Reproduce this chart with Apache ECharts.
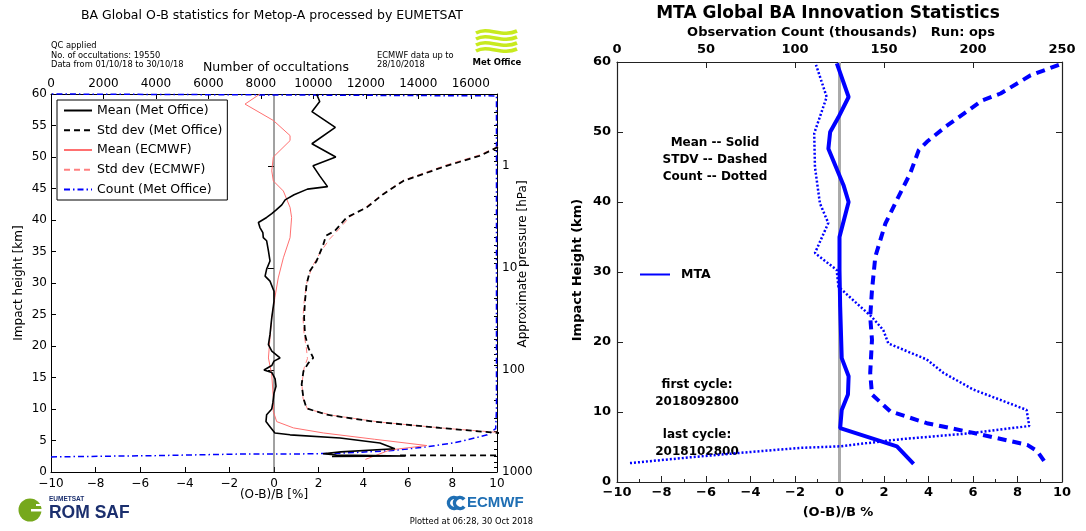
<!DOCTYPE html>
<html>
<head>
<meta charset="utf-8">
<script src="https://cdn.jsdelivr.net/npm/echarts@6/dist/echarts.min.js"></script>
<style>
  html, body { margin: 0; padding: 0; background: #fff; }
  #chart { width: 1086px; height: 531px; }
</style>
</head>
<body>
<div id="chart"></div>
<script>
// ---- left panel: Metop-A O-B statistics, [ (O-B)/B %, impact height km ] ----
const moMean = [[1.91,60],[2.05,58.8],[1.7,57.2],[2.75,54.7],[1.7,52.1],[2.77,50.0],[1.75,48.6],[2.05,47.0],[2.4,45.3],[1.5,44.9],[0.9,44.0],[0.5,43.2],[0.35,42.4],[0.1,41.6],[-0.1,41.0],[-0.33,40.4],[-0.7,39.6],[-0.63,38.8],[-0.5,38.0],[-0.48,37.2],[-0.33,36.7],[-0.25,35.1],[-0.18,33.5],[-0.33,32.2],[-0.4,31.1],[-0.18,30.3],[0,28.7],[0,27.1],[-0.1,24.5],[-0.18,21.8],[-0.25,20.2],[-0.1,19.2],[0.27,18.1],[0,17.6],[-0.1,16.9],[-0.45,16.2],[-0.1,15.8],[0.05,14.8],[0.09,13.6],[0,12.5],[-0.05,11.0],[-0.1,10.0],[-0.33,9.1],[-0.36,8.0],[-0.18,7.2],[0.04,6.2],[0.72,5.9],[2.96,5.4],[4.75,4.6],[5.42,3.7],[3.0,3.2],[2.2,2.9],[2.8,2.7],[5.9,2.55],[2.6,2.45]];
const moStd = [[14,54.5],[10.0,51.5],[9.24,50.2],[7.74,48.6],[5.8,46.2],[4.9,44.1],[4.16,42.0],[3.26,40.4],[2.74,38.3],[2.33,37.5],[2.2,36.0],[1.91,33.5],[1.61,31.9],[1.46,29.8],[1.39,27.1],[1.35,24.5],[1.39,21.8],[1.54,19.7],[1.76,18.1],[1.54,17.3],[1.32,16.0],[1.24,13.9],[1.32,11.7],[1.46,10.1],[2.36,9.1],[4.45,8.0],[7.44,7.0],[10.0,6.2],[14,5.6],[30,3.5],[30,2.65],[5.6,2.65]];
const ecMean = [[-0.63,60],[-1.3,58.4],[-0.03,55.8],[0.72,53.4],[0.72,52.6],[-0.03,50.0],[-0.1,47.8],[-0.03,46.2],[0.42,44.6],[0.72,42.0],[0.79,40.4],[0.72,37.2],[0.42,34.0],[0.19,30.8],[0.04,27.7],[-0.1,24.5],[-0.18,21.3],[-0.25,18.1],[-0.1,15.4],[-0.03,11.7],[-0.03,9.6],[0.12,8.0],[0.87,7.0],[2.21,6.2],[4.5,5.2],[6.85,4.2],[5.2,3.5],[4.1,2.0]];
const ecStd = [[14,54.5],[10.0,51.6],[9.2,50.3],[7.7,48.7],[5.8,46.3],[4.9,44.2],[4.1,42.0],[3.4,40.5],[2.9,38.5],[2.5,37.0],[2.1,35.0],[1.7,32.5],[1.45,29.8],[1.35,27.0],[1.3,24.5],[1.35,21.8],[1.45,19.7],[1.5,18.0],[1.35,16.5],[1.25,14.0],[1.3,11.7],[1.5,10.0],[2.6,9.0],[4.8,7.9],[7.8,6.9],[10.0,6.3],[14,5.7]];
// [ number of occultations, impact height km ]
const moCount = [[0,2.4],[4000,2.6],[7200,2.85],[9500,2.87],[11000,2.97],[13000,3.4],[14340,4.0],[15300,4.6],[15870,5.1],[16630,5.9],[16950,6.9],[16980,10],[16980,20],[16980,30],[16980,40],[16980,50],[16980,59.7],[0,60]];
const pressureLabels = [1000, 100, 10, 1];

// ---- right panel: MTA innovation statistics ----
const mtaMean = [[-0.12,59.8],[0.41,55.0],[-0.05,52.1],[-0.42,50.0],[-0.5,47.6],[0.18,42.4],[0.41,40.0],[0,35.0],[0,30.3],[0.03,25.1],[0.1,17.7],[0.41,15.1],[0.38,12.5],[0.1,10.3],[0.03,7.7],[2.58,5.1],[3.33,2.6]];
const mtaStd = [[9.86,59.6],[8.59,58.1],[7.24,55.5],[6.41,54.5],[5.89,53.3],[4.83,50.9],[3.93,48.6],[3.56,47.4],[3.18,44.1],[2.58,40.3],[2.06,36.9],[1.61,32.2],[1.46,27.4],[1.38,23.6],[1.46,20.3],[1.38,15.6],[1.46,12.5],[2.28,10.1],[3.93,8.4],[6.04,7.0],[8.44,5.3],[8.89,4.4],[9.26,2.7]];
// [ count (thousands), impact height km ]
const mtaCount = [[7.3,2.7],[40,3.5],[71,4.2],[102.8,4.87],[125.3,5.1],[158.9,6.1],[200,7.0],[231.6,8.0],[230.1,10.3],[200.2,13.2],[183.3,15.6],[174,17.5],[152.4,19.8],[149.6,21.7],[143.1,23.6],[136.5,25.1],[124.4,27.9],[123.4,30.3],[111.2,32.7],[118.7,37.0],[114,39.8],[111.2,45.0],[110.8,49.8],[117.8,55.0],[111.8,59.6]];
const zeroLine = [[0,0],[0,60]];

const FONT = 'DejaVu Sans';
const minus = v => (v < 0 ? '\u2212' + (-v) : String(v));

// log-pressure positions for the right axis of the left panel
const pMinor = [];
for (let d = -1; d <= 2; d++) {
  for (let k = 2; k <= 9; k++) {
    const p = k * Math.pow(10, d);
    if (p >= 0.2 && p <= 1000) pMinor.push(-Math.log10(p));
  }
}
const pMajor = pressureLabels.map(p => -Math.log10(p));

function lineSeries(name, data, xi, yi, color, width, type, extra) {
  return Object.assign({
    name, type: 'line', data, xAxisIndex: xi, yAxisIndex: yi,
    symbol: 'none', showSymbol: false, silent: true, animation: false,
    lineStyle: { color, width, type: type || 'solid', cap: 'butt' },
    itemStyle: { color }
  }, extra || {});
}

function txt(x, y, text, font, align, extra) {
  return Object.assign({
    type: 'text', x, y, silent: true,
    style: { text, font, fill: '#000', align: align || 'left', verticalAlign: 'middle' }
  }, extra || {});
}

const axisBase = (extra) => Object.assign({
  type: 'value',
  axisLine: { show: true, onZero: false, lineStyle: { color: '#000', width: 1 } },
  axisTick: { show: true, inside: true, length: 5, lineStyle: { color: '#000', width: 1 } },
  axisLabel: { color: '#000', fontSize: 12, fontFamily: FONT },
  splitLine: { show: false }
}, extra);

const boldLabel = { color: '#000', fontSize: 13, fontFamily: FONT, fontWeight: 'bold' };
const frameRight = { show: true, onZero: false, lineStyle: { color: '#222', width: 1.2 } };
const tickRight = { show: true, inside: true, length: 6, lineStyle: { color: '#222', width: 1 } };

const option = {
  animation: false,
  grid: [
    { left: 51, top: 94, width: 446, height: 378 },
    { left: 617, top: 62, width: 445, height: 420 }
  ],
  xAxis: [
    axisBase({ gridIndex: 0, position: 'bottom', min: -10, max: 10, interval: 2,
      axisLabel: { color: '#000', fontSize: 12, fontFamily: FONT, margin: 6, formatter: minus } }),
    axisBase({ gridIndex: 0, position: 'top', min: 0, max: 17000, interval: 2000,
      axisLabel: { color: '#000', fontSize: 12, fontFamily: FONT, margin: 4,
        formatter: v => (v > 16000 ? '' : String(v)) } }),
    axisBase({ gridIndex: 1, position: 'bottom', min: -10, max: 10, interval: 2,
      axisLine: frameRight, axisTick: tickRight,
      minorTick: { show: true, splitNumber: 2, length: 3, lineStyle: { color: '#222' } },
      axisLabel: Object.assign({ margin: 4, formatter: minus }, boldLabel) }),
    axisBase({ gridIndex: 1, position: 'top', min: 0, max: 250, interval: 50,
      axisLine: frameRight, axisTick: tickRight,
      axisLabel: Object.assign({ margin: 6 }, boldLabel) })
  ],
  yAxis: [
    axisBase({ gridIndex: 0, position: 'left', min: 0, max: 60, interval: 5,
      axisLabel: { color: '#000', fontSize: 12, fontFamily: FONT, margin: 4 } }),
    axisBase({ gridIndex: 0, position: 'right', min: -3, max: 0.706,
      axisTick: { show: true, inside: true, length: 3, customValues: pMinor, lineStyle: { color: '#000', width: 1 } },
      axisLabel: { show: false } }),
    axisBase({ gridIndex: 0, position: 'right', min: -3, max: 0.706,
      axisLine: { show: false },
      axisTick: { show: true, inside: true, length: 6, customValues: pMajor, lineStyle: { color: '#000', width: 1 } },
      axisLabel: { color: '#000', fontSize: 12, fontFamily: FONT, margin: 5, customValues: pMajor,
        formatter: v => String(Math.round(Math.pow(10, -v))) } }),
    axisBase({ gridIndex: 1, position: 'left', min: 0, max: 60, interval: 10,
      axisLine: frameRight, axisTick: tickRight,
      axisLabel: Object.assign({ margin: 6 }, boldLabel) }),
    axisBase({ gridIndex: 1, position: 'right', min: 0, max: 60, interval: 10,
      axisLine: frameRight, axisTick: tickRight,
      axisLabel: { show: false } })
  ],
  legend: [
    {
      data: ['Mean (Met Office)', 'Std dev (Met Office)', 'Mean (ECMWF)', 'Std dev (ECMWF)', 'Count (Met Office)'],
      orient: 'vertical', left: 57, top: 100, selectedMode: false,
      itemWidth: 28, itemHeight: 14, itemGap: 6.75,
      padding: [4, 5, 4, 6],
      itemStyle: { opacity: 0 },
      borderColor: '#000', borderWidth: 1, backgroundColor: '#fff',
      textStyle: { color: '#000', fontSize: 12.5, fontFamily: FONT }
    },
    {
      data: ['MTA'], left: 634, top: 263, selectedMode: false,
      itemWidth: 30, itemHeight: 14,
      itemStyle: { opacity: 0 },
      textStyle: { color: '#000', fontSize: 12.5, fontFamily: FONT, fontWeight: 'bold', padding: [0, 0, 0, 6] }
    }
  ],
  series: [
    // left panel
    lineSeries('zeroLeft', zeroLine, 0, 0, '#444', 1),
    lineSeries('Count (Met Office)', moCount, 1, 0, '#0000ff', 1.5, [6, 3, 1.5, 3], { clip: false }),
    lineSeries('Std dev (ECMWF)', ecStd, 0, 0, '#ff8080', 1, [6, 4]),
    lineSeries('Std dev (Met Office)', moStd, 0, 0, '#000', 1.8, [6, 4]),
    lineSeries('Mean (ECMWF)', ecMean, 0, 0, '#ff7070', 1),
    lineSeries('Mean (Met Office)', moMean, 0, 0, '#000', 1.6),
    // right panel
    lineSeries('zeroRight', zeroLine, 2, 3, '#aaaaaa', 3),
    lineSeries('MTA count', mtaCount, 3, 3, '#0000ff', 2.5, [2, 2]),
    lineSeries('MTA stdv', mtaStd, 2, 3, '#0000ff', 4, [9, 6]),
    lineSeries('MTA', mtaMean, 2, 3, '#0000ff', 4)
  ],
  graphic: [
    // left panel texts
    txt(272, 15.5, 'BA Global O-B statistics for Metop-A processed by EUMETSAT', '12.5px "DejaVu Sans"', 'center'),
    txt(51, 46, 'QC applied', '8.3px "DejaVu Sans"'),
    txt(51, 55.5, 'No. of occultations: 19550', '8.3px "DejaVu Sans"'),
    txt(51, 65, 'Data from 01/10/18 to 30/10/18', '8.3px "DejaVu Sans"'),
    txt(377, 56, 'ECMWF data up to', '8.3px "DejaVu Sans"'),
    txt(377, 65, '28/10/2018', '8.3px "DejaVu Sans"'),
    txt(276, 68, 'Number of occultations', '12.5px "DejaVu Sans"', 'center'),
    txt(19, 283, 'Impact height [km]', '12px "DejaVu Sans"', 'center', { rotation: Math.PI / 2 }),
    txt(523, 264, 'Approximate pressure [hPa]', '12px "DejaVu Sans"', 'center', { rotation: Math.PI / 2 }),
    txt(274, 495, '(O-B)/B [%]', '12px "DejaVu Sans"', 'center'),
    txt(533, 522, 'Plotted at 06:28, 30 Oct 2018', '8.3px "DejaVu Sans"', 'right'),
    // Met Office logo
    { type: 'group', silent: true, children: [0, 1, 2, 3].map(i => ({
        type: 'bezierCurve',
        shape: { x1: 476, y1: 33 + i * 6, cpx1: 488, cpy1: 26 + i * 6, cpx2: 502, cpy2: 38 + i * 6, x2: 517, y2: 31 + i * 6 },
        style: { stroke: '#c8ea1e', lineWidth: 3.6, fill: null }
      })) },
    txt(497, 63, 'Met Office', 'bold 8.5px "DejaVu Sans"', 'center'),
    // ROM SAF logo
    { type: 'circle', silent: true, shape: { cx: 30, cy: 510, r: 11.5 }, style: { fill: '#76a81c' } },
    { type: 'rect', silent: true, shape: { x: 31, y: 509, width: 13, height: 2.5 }, style: { fill: '#fff' } },
    { type: 'rect', silent: true, shape: { x: 36, y: 504, width: 8, height: 2 }, style: { fill: '#fff' } },
    { type: 'text', x: 49, y: 499, silent: true, style: { text: 'EUMETSAT', font: 'bold 6.5px "Liberation Sans"', fill: '#1b2f6e', align: 'left', verticalAlign: 'middle' } },
    { type: 'text', x: 49, y: 513, scaleX: 0.92, silent: true, style: { text: 'ROM SAF', font: 'bold 19px "Liberation Sans"', fill: '#1b2f6e', align: 'left', verticalAlign: 'middle' } },
    // ECMWF logo
    { type: 'arc', silent: true, shape: { cx: 454, cy: 503, r: 5.5, startAngle: 0.7, endAngle: Math.PI * 2 - 0.7 }, style: { stroke: '#1f6fb4', lineWidth: 3.5, fill: null } },
    { type: 'arc', silent: true, shape: { cx: 460, cy: 503, r: 5.5, startAngle: 0.7, endAngle: Math.PI * 2 - 0.7 }, style: { stroke: '#1f6fb4', lineWidth: 3.5, fill: null } },
    { type: 'text', x: 467, y: 503, silent: true, style: { text: 'ECMWF', font: 'bold 15px "Liberation Sans"', fill: '#1f6fb4', align: 'left', verticalAlign: 'middle' } },
    // right panel texts
    txt(828, 14, 'MTA Global BA Innovation Statistics', 'bold 17px "DejaVu Sans"', 'center'),
    txt(841, 33, 'Observation Count (thousands)   Run: ops', 'bold 13px "DejaVu Sans"', 'center'),
    txt(715, 143, 'Mean -- Solid', 'bold 12px "DejaVu Sans"', 'center'),
    txt(715, 160, 'STDV -- Dashed', 'bold 12px "DejaVu Sans"', 'center'),
    txt(715, 177, 'Count -- Dotted', 'bold 12px "DejaVu Sans"', 'center'),
    txt(697, 385, 'first cycle:', 'bold 12px "DejaVu Sans"', 'center'),
    txt(697, 402, '2018092800', 'bold 12px "DejaVu Sans"', 'center'),
    txt(697, 435, 'last cycle:', 'bold 12px "DejaVu Sans"', 'center'),
    txt(697, 452, '2018102800', 'bold 12px "DejaVu Sans"', 'center'),
    txt(578, 270, 'Impact Height (km)', 'bold 13px "DejaVu Sans"', 'center', { rotation: Math.PI / 2 }),
    txt(838, 513, '(O-B)/B %', 'bold 13px "DejaVu Sans"', 'center')
  ]
};

const myChart = echarts.init(document.getElementById('chart'));
myChart.setOption(option);
</script>
</body>
</html>
